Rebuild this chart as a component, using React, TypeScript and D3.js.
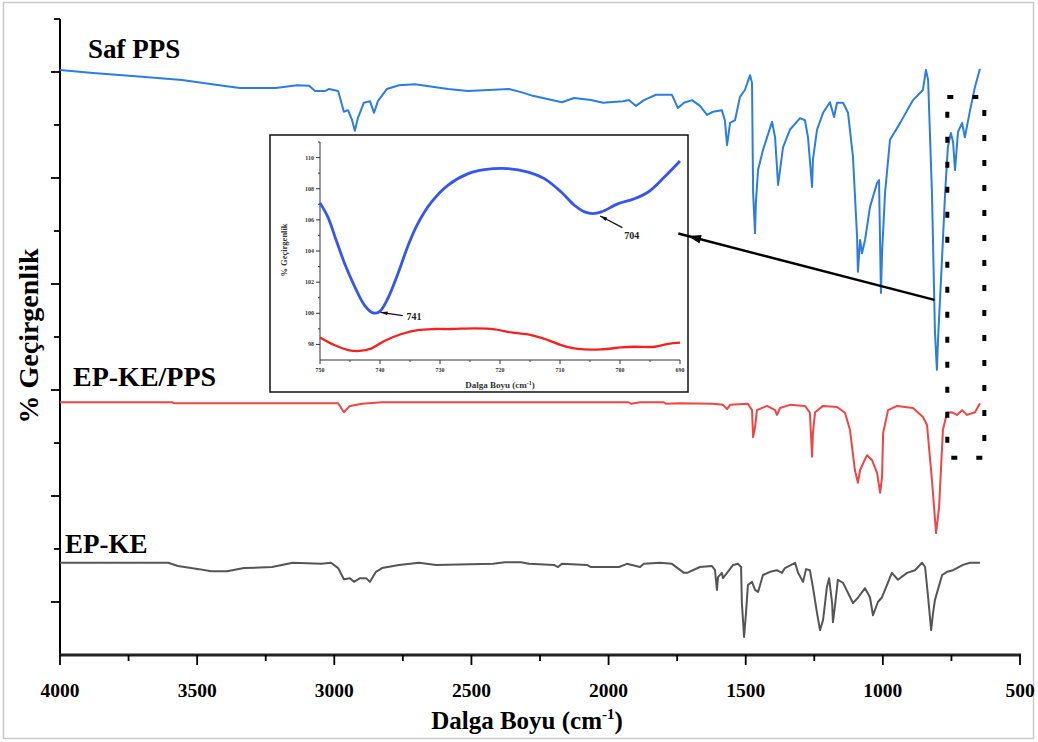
import React from "react";
import * as d3 from "d3";

// ---------- main spectra (wavenumber cm-1, transmittance offset units) ----------
const safWn = [4000, 3880, 3701, 3555, 3406, 3344, 3213, 3136, 3092, 3070, 3034, 3019, 2986, 2965, 2950, 2935, 2925, 2914, 2892, 2870, 2855, 2841, 2808, 2764, 2706, 2585, 2513, 2363, 2319, 2276, 2170, 2126, 2064, 2020, 1947, 1926, 1900, 1871, 1827, 1769, 1747, 1725, 1696, 1667, 1641, 1619, 1587, 1576, 1568, 1557, 1539, 1521, 1503, 1484, 1477, 1473, 1466, 1463, 1455, 1437, 1404, 1393, 1382, 1375, 1364, 1339, 1302, 1284, 1273, 1258, 1255, 1240, 1218, 1193, 1178, 1167, 1145, 1127, 1109, 1094, 1091, 1083, 1076, 1065, 1047, 1021, 1014, 1007, 1003, 992, 974, 937, 890, 854, 843, 835, 821, 810, 803, 799, 784, 773, 763, 752, 744, 737, 726, 711, 701, 682, 664, 646];
const safT = [110.4, 109.8, 109.1, 108.5, 107.4, 107.0, 107.0, 107.5, 107.4, 106.4, 106.4, 106.8, 106.4, 102.5, 102.8, 100.9, 98.9, 101.3, 104.2, 104.5, 102.3, 104.5, 106.8, 107.5, 107.7, 106.8, 106.4, 106.8, 106.2, 105.5, 104.3, 105.1, 104.7, 104.2, 104.5, 104.7, 103.6, 104.7, 105.7, 105.7, 103.2, 104.2, 104.7, 103.6, 101.9, 102.5, 102.8, 100.9, 96.2, 100.4, 100.9, 105.3, 106.6, 109.4, 107.9, 87.2, 79.6, 85.3, 91.5, 95.3, 100.6, 97.7, 88.7, 91.5, 95.8, 99.1, 101.3, 100.9, 97.7, 88.3, 93.4, 99.1, 102.3, 104.3, 101.5, 104.2, 104.2, 102.3, 94.0, 78.9, 72.3, 78.3, 75.8, 78.3, 84.5, 89.1, 89.6, 68.3, 75.8, 87.2, 97.2, 100.4, 104.7, 106.6, 110.4, 108.5, 87.2, 60.8, 53.8, 59.4, 75.1, 87.2, 95.8, 98.5, 96.8, 91.5, 98.7, 100.4, 97.7, 102.8, 107.2, 110.6];

const compWn = [4000, 3592, 3584, 2986, 2965, 2943, 2899, 2826, 1926, 1918, 1885, 1798, 1791, 1740, 1619, 1583, 1568, 1557, 1492, 1477, 1473, 1466, 1459, 1422, 1393, 1386, 1375, 1339, 1284, 1266, 1258, 1255, 1247, 1218, 1167, 1138, 1120, 1102, 1091, 1083, 1058, 1040, 1021, 1010, 1003, 999, 981, 948, 890, 854, 839, 821, 806, 795, 781, 766, 748, 730, 711, 693, 664, 646];
const compT = [47.7, 47.7, 47.5, 47.5, 45.8, 47.0, 47.4, 47.7, 47.7, 47.4, 47.7, 47.7, 47.4, 47.5, 47.4, 47.2, 46.4, 47.2, 47.4, 46.2, 41.1, 43.0, 46.2, 47.0, 46.2, 45.3, 46.6, 47.2, 47.0, 45.7, 37.4, 41.9, 45.8, 47.0, 46.8, 45.7, 42.5, 34.9, 32.5, 34.9, 37.7, 36.8, 34.3, 30.6, 33.6, 41.9, 46.2, 47.0, 46.6, 44.9, 43.4, 33.0, 23.0, 27.9, 42.5, 45.7, 45.8, 45.3, 46.2, 45.3, 45.8, 47.5];

const keWn = [4000, 3606, 3570, 3493, 3449, 3391, 3329, 3227, 3151, 3048, 3012, 2986, 2965, 2943, 2928, 2906, 2884, 2870, 2848, 2826, 2764, 2691, 2629, 2421, 2378, 2319, 2290, 2199, 2184, 2170, 2079, 2064, 1962, 1933, 1900, 1885, 1871, 1813, 1769, 1725, 1714, 1667, 1623, 1612, 1605, 1601, 1587, 1583, 1568, 1546, 1528, 1517, 1514, 1506, 1499, 1492, 1477, 1466, 1455, 1437, 1411, 1386, 1368, 1357, 1320, 1309, 1291, 1280, 1266, 1255, 1240, 1229, 1218, 1204, 1196, 1185, 1182, 1175, 1164, 1145, 1109, 1091, 1065, 1047, 1036, 1018, 1003, 967, 945, 912, 883, 857, 846, 835, 824, 817, 810, 784, 766, 744, 730, 708, 682, 646];
const keT = [17.4, 17.4, 16.8, 16.2, 15.8, 15.8, 16.4, 16.6, 17.4, 17.2, 17.4, 16.4, 14.3, 14.5, 13.8, 14.5, 14.5, 13.8, 15.7, 16.4, 17.0, 17.4, 17.0, 17.2, 17.5, 17.5, 17.2, 17.0, 16.6, 17.2, 17.0, 16.6, 16.6, 17.2, 16.8, 16.6, 17.2, 17.4, 17.2, 15.5, 15.5, 16.6, 16.8, 16.0, 12.3, 14.7, 15.5, 14.5, 15.5, 17.0, 17.2, 16.6, 9.8, 3.4, 7.9, 13.2, 13.8, 12.3, 11.9, 15.1, 15.7, 16.0, 15.5, 16.4, 17.4, 15.5, 13.8, 16.2, 16.0, 12.8, 7.9, 4.7, 6.6, 12.8, 14.5, 9.8, 6.2, 9.1, 14.2, 13.6, 9.8, 10.8, 12.6, 10.9, 7.5, 10.0, 10.9, 15.5, 14.2, 15.5, 16.0, 17.4, 16.6, 10.9, 4.7, 7.9, 10.4, 15.1, 15.7, 16.0, 16.4, 17.0, 17.4, 17.4];

// ---------- inset (750-690 cm-1) ----------
const insetPpsWn = [750, 748.7, 747.3, 745.9, 744.2, 742.6, 741.2, 740.1, 738.7, 737, 735.3, 733.7, 731.4, 728.7, 725.3, 722.6, 718.7, 715.3, 712.6, 709.8, 707.6, 705.9, 704.5, 703.1, 700.3, 697.6, 695.3, 692.6, 690];
const insetPpsT = [107.09, 106.19, 104.69, 103.2, 101.7, 100.53, 100.03, 100.1, 100.95, 102.56, 104.37, 105.76, 107.15, 108.22, 108.97, 109.22, 109.29, 109.07, 108.65, 107.79, 106.94, 106.51, 106.4, 106.51, 107.04, 107.36, 107.79, 108.75, 109.78];
const insetCompWn = [750, 747.6, 745.3, 743.4, 741.4, 739.2, 736.4, 733.7, 730.9, 728.1, 724.2, 720.9, 718.1, 714.8, 712, 709.8, 707, 703.1, 699.8, 697.6, 694.2, 692, 690];
const insetCompT = [98.45, 97.96, 97.64, 97.58, 97.75, 98.24, 98.67, 98.92, 98.99, 98.99, 99.03, 98.97, 98.77, 98.6, 98.28, 97.96, 97.71, 97.68, 97.81, 97.85, 97.85, 98.03, 98.11];

const mainXTicks = [4000, 3500, 3000, 2500, 2000, 1500, 1000, 500];
const mainYTicks = [10, 20, 30, 40, 50, 60, 70, 80, 90, 100, 110, 120];
const insetXTicks = [750, 740, 730, 720, 710, 700, 690];
const insetYTicks = [98, 100, 102, 104, 106, 108, 110];
const seriesNames = ["Saf PPS", "EP-KE/PPS", "EP-KE"];
const peakLabels = ["741", "704"];

const SERIF = "'Liberation Serif', 'Times New Roman', serif";

export default function App() {
  const W = 1038, H = 742;
  const x = d3.scaleLinear().domain([4000, 500]).range([60, 1020]);
  const y = d3.scaleLinear().domain([0, 120]).range([655, 19]);
  const mk = (wn: number[], t: number[]) => wn.map((w, i) => [w, t[i]] as [number, number]);
  const line = d3.line<[number, number]>().x(d => x(d[0])).y(d => y(d[1]));

  const xi = d3.scaleLinear().domain([750, 690]).range([320, 680]);
  const yi = d3.scaleLinear().domain([97, 111]).range([360, 142]);
  const lineI = d3.line<[number, number]>().x(d => xi(d[0])).y(d => yi(d[1])).curve(d3.curveCatmullRom);

  const minorX = d3.range(750, 3751, 500);
  const minorXI = d3.range(745, 690, -10);
  const minorYI = d3.range(97, 112, 2).filter(v => v > 97);

  // dotted zoom region
  const rx0 = x(765), rx1 = x(630), ry0 = y(105.3), ry1 = y(37.2);
  // main arrow from dotted region to inset
  const ax0 = x(812), ay0 = y(67), ax1 = 688, ay1 = 236;
  const ang = Math.atan2(ay1 - ay0, ax1 - ax0);
  const head = (tx: number, ty: number, a: number, L: number, Wd: number) => {
    const bx = tx - L * Math.cos(a), by = ty - L * Math.sin(a);
    const px = -Math.sin(a) * Wd / 2, py = Math.cos(a) * Wd / 2;
    return `M${tx},${ty}L${bx + px},${by + py}L${bx - px},${by - py}Z`;
  };

  // inset annotation arrows
  const a1 = { x0: xi(736.2), y0: yi(99.85), x1: xi(739.9), y1: yi(100.06) };
  const a2 = { x0: xi(699.6), y0: yi(105.5), x1: xi(703.3), y1: yi(106.25) };
  const angA1 = Math.atan2(a1.y1 - a1.y0, a1.x1 - a1.x0);
  const angA2 = Math.atan2(a2.y1 - a2.y0, a2.x1 - a2.x0);

  return (
    <svg width={W} height={H} style={{ position: "absolute", left: 0, top: 0, background: "#fff" }} fontFamily={SERIF}>
      <rect x={3.5} y={2.5} width={1030} height={736} fill="none" stroke="#c9c9c9" strokeWidth={1.5} />

      {/* main y axis */}
      <line x1={60} x2={60} y1={y(120)} y2={655} stroke="#000" strokeWidth={2} />
      {mainYTicks.map(v => (
        <line key={v} x1={60} x2={v % 20 === 10 ? 51 : 54} y1={y(v)} y2={y(v)} stroke="#000" strokeWidth={1.8} />
      ))}
      <text transform={`translate(38,336) rotate(-90)`} textAnchor="middle" fontWeight="bold" fontSize={28}>% Geçirgenlik</text>

      {/* main x axis */}
      <line x1={59} x2={1021} y1={655} y2={655} stroke="#222" strokeWidth={3} />
      {mainXTicks.map(v => (
        <g key={v}>
          <line x1={x(v)} x2={x(v)} y1={655} y2={665} stroke="#000" strokeWidth={1.8} />
          <text x={x(v)} y={697} textAnchor="middle" fontWeight="bold" fontSize={19.5}>{v}</text>
        </g>
      ))}
      {minorX.map(v => (
        <line key={v} x1={x(v)} x2={x(v)} y1={655} y2={661} stroke="#000" strokeWidth={1.8} />
      ))}
      <text x={527} y={729} textAnchor="middle" fontWeight="bold" fontSize={25}>
        Dalga Boyu (cm<tspan dy={-10} fontSize={15}>-1</tspan><tspan dy={10}>)</tspan>
      </text>

      {/* spectra */}
      <path d={line(mk(safWn, safT)) || ""} fill="none" stroke="#2b7de0" strokeWidth={2} strokeLinejoin="round" />
      <path d={line(mk(compWn, compT)) || ""} fill="none" stroke="#f04545" strokeWidth={2} strokeLinejoin="round" />
      <path d={line(mk(keWn, keT)) || ""} fill="none" stroke="#555" strokeWidth={2} strokeLinejoin="round" />

      {/* series labels */}
      <text x={88} y={58} fontWeight="bold" fontSize={27}>{seriesNames[0]}</text>
      <text x={73} y={386} fontWeight="bold" fontSize={28}>{seriesNames[1]}</text>
      <text x={65} y={553} fontWeight="bold" fontSize={27}>{seriesNames[2]}</text>

      {/* dotted region */}
      <rect x={rx0} y={ry0} width={rx1 - rx0} height={ry1 - ry0} fill="none" stroke="#000" strokeWidth={4} strokeDasharray="6 19" />

      {/* inset */}
      <rect x={270} y={135} width={418} height={257} fill="#fff" stroke="#111" strokeWidth={1.5} />
      <line x1={320} x2={320} y1={yi(111)} y2={360} stroke="#333" strokeWidth={1} />
      <line x1={320} x2={680} y1={360} y2={360} stroke="#333" strokeWidth={1} />
      {insetYTicks.map(v => (
        <g key={v}>
          <line x1={316} x2={320} y1={yi(v)} y2={yi(v)} stroke="#333" strokeWidth={1} />
          <text x={314} y={yi(v) + 2} textAnchor="end" fontSize={6} fontWeight="bold" fill="#333">{v}</text>
        </g>
      ))}
      {minorYI.map(v => (
        <line key={v} x1={318} x2={320} y1={yi(v)} y2={yi(v)} stroke="#333" strokeWidth={1} />
      ))}
      {insetXTicks.map(v => (
        <g key={v}>
          <line x1={xi(v)} x2={xi(v)} y1={360} y2={364} stroke="#333" strokeWidth={1} />
          <text x={xi(v)} y={372} textAnchor="middle" fontSize={6} fontWeight="bold" fill="#333">{v}</text>
        </g>
      ))}
      {minorXI.map(v => (
        <line key={v} x1={xi(v)} x2={xi(v)} y1={360} y2={362} stroke="#333" strokeWidth={1} />
      ))}
      <text transform={`translate(287,250) rotate(-90)`} textAnchor="middle" fontSize={8.5} fontWeight="bold" fill="#333">% Geçirgenlik</text>
      <text x={500} y={388} textAnchor="middle" fontSize={9} fontWeight="bold" fill="#333">
        Dalga Boyu (cm<tspan dy={-3} fontSize={6}>-1</tspan><tspan dy={3}>)</tspan>
      </text>
      <path d={lineI(mk(insetPpsWn, insetPpsT)) || ""} fill="none" stroke="#3654f0" strokeWidth={2.8} />
      <path d={lineI(mk(insetCompWn, insetCompT)) || ""} fill="none" stroke="#f52020" strokeWidth={2.3} />

      {/* inset annotations */}
      <line x1={a1.x0} y1={a1.y0} x2={a1.x1} y2={a1.y1} stroke="#111" strokeWidth={1.2} />
      <path d={head(a1.x1, a1.y1, angA1, 7, 4)} fill="#111" />
      <text x={xi(735.6)} y={yi(99.6)} fontSize={10} fontWeight="bold" fill="#222">{peakLabels[0]}</text>
      <line x1={a2.x0} y1={a2.y0} x2={a2.x1} y2={a2.y1} stroke="#111" strokeWidth={1.2} />
      <path d={head(a2.x1, a2.y1, angA2, 7, 4)} fill="#111" />
      <text x={xi(699.3)} y={yi(104.8)} fontSize={10} fontWeight="bold" fill="#222">{peakLabels[1]}</text>

      {/* main arrow */}
      <line x1={ax0} y1={ay0} x2={ax1 + 10 * Math.cos(ang)} y2={ay1 + 10 * Math.sin(ang)} stroke="#000" strokeWidth={2.5} />
      <path d={head(ax1, ay1, ang, 13, 9)} fill="#000" />
    </svg>
  );
}
